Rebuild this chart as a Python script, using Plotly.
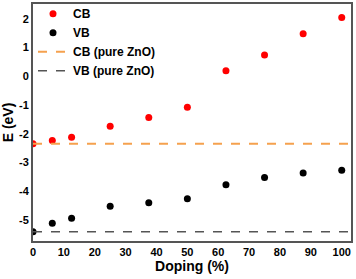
import plotly.graph_objects as go

doping = [0, 6.25, 12.5, 25, 37.5, 50, 62.5, 75, 87.5, 100]
cb = [-2.35, -2.24, -2.12, -1.74, -1.44, -1.08, 0.19, 0.74, 1.48, 2.05]
vb = [-5.42, -5.12, -4.95, -4.53, -4.41, -4.27, -3.78, -3.53, -3.37, -3.27]
cb_pure = -2.35
vb_pure = -5.42
x_ticks = [0, 10, 20, 30, 40, 50, 60, 70, 80, 90, 100]
y_ticks = [-5, -4, -3, -2, -1, 0, 1, 2]

FONT = "Liberation Sans, Arial, sans-serif"

fig = go.Figure()
fig.add_trace(go.Scatter(x=doping, y=cb, mode="markers", name="CB",
                         marker=dict(color="#ff0000", size=7)))
fig.add_trace(go.Scatter(x=doping, y=vb, mode="markers", name="VB",
                         marker=dict(color="#000000", size=7)))
fig.add_trace(go.Scatter(x=[0, 103], y=[cb_pure, cb_pure], mode="lines",
                         name="CB (pure ZnO)",
                         line=dict(color="#f5a14e", width=1.8, dash="dash")))
fig.add_trace(go.Scatter(x=[0, 103], y=[vb_pure, vb_pure], mode="lines",
                         name="VB (pure ZnO)",
                         line=dict(color="#555555", width=1.5, dash="dash")))

fig.update_layout(
    width=356, height=279,
    margin=dict(l=33, r=5, t=4, b=38, autoexpand=False),
    paper_bgcolor="white", plot_bgcolor="white",
    font=dict(family=FONT, size=11, color="black", weight="bold"),
    showlegend=True,
    legend=dict(x=0.0, y=1.02, xanchor="left", yanchor="top",
                bgcolor="rgba(0,0,0,0)", font=dict(size=12, weight="bold"),
                tracegroupgap=0),
)
fig.update_xaxes(
    range=[0, 103], tickvals=x_ticks, ticktext=[str(t) for t in x_ticks],
    showgrid=False, zeroline=False, automargin=False,
    showline=True, linecolor="#555555", linewidth=2, mirror=True,
    ticks="", tickfont=dict(size=11, weight="bold"),
    title=dict(text="Doping (%)", font=dict(size=14, weight="bold"), standoff=4),
)
fig.update_yaxes(
    range=[-5.74, 2.52], tickvals=y_ticks, ticktext=[str(t) for t in y_ticks],
    showgrid=False, zeroline=False, automargin=False,
    showline=True, linecolor="#555555", linewidth=2, mirror=True,
    ticks="", tickfont=dict(size=11, weight="bold"),
    title=dict(text="E (eV)", font=dict(size=14, weight="bold"), standoff=2),
)

fig.write_html("out.html",
               config={"displayModeBar": False},
               post_script="document.body.style.margin='0';document.body.style.overflow='hidden';")
